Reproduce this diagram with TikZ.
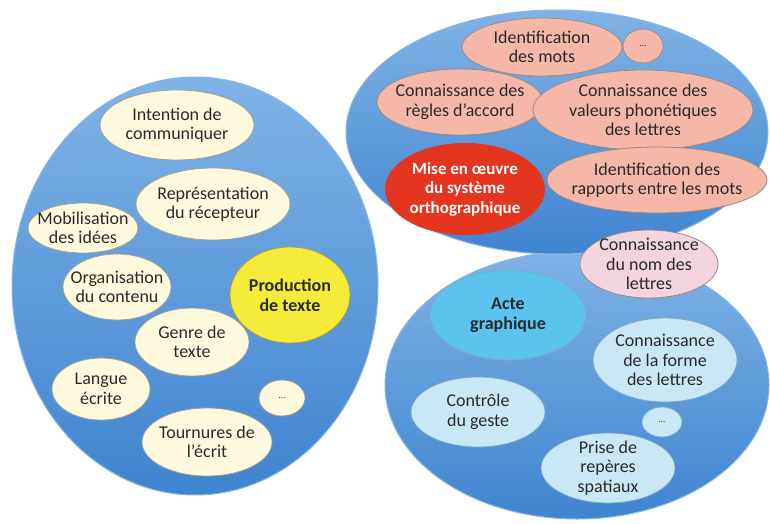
\documentclass[tikz,border=0pt]{standalone}
\usepackage{fontspec}
\setmainfont{Carlito}
\usetikzlibrary{shapes.geometric}

\definecolor{zonetop}{HTML}{80B3E6}
\definecolor{zonemid}{HTML}{5F9EDC}
\definecolor{zonebot}{HTML}{3F84D0}
\definecolor{zoneline}{HTML}{8AB6E2}
\definecolor{creamfill}{HTML}{FFFADD}
\definecolor{creamline}{HTML}{A3A194}
\definecolor{salmon}{HTML}{F5B8A8}
\definecolor{salmonline}{HTML}{9E8784}
\definecolor{redfill}{HTML}{E4351F}
\definecolor{yellowfill}{HTML}{F7EB3A}
\definecolor{yellowline}{HTML}{A9A14A}
\definecolor{rosefill}{HTML}{F3D4DF}
\definecolor{sky}{HTML}{C8E8F6}
\definecolor{skyline}{HTML}{7FA8C6}
\definecolor{actefill}{HTML}{5CC3EF}
\definecolor{txt}{HTML}{2A2A2A}

\tikzset{
  zone/.style={ellipse, draw=zoneline, line width=1pt, top color=zonetop, middle color=zonemid, bottom color=zonebot, inner sep=0pt},
  bub/.style={ellipse, line width=.8pt, inner sep=0pt},
  cream/.style={bub, draw=creamline, fill=creamfill},
  pinkbub/.style={bub, draw=salmonline, fill=salmon},
  skybub/.style={bub, draw=skyline, fill=sky},
  every label/.style={align=center, text=txt, font=\fontsize{18}{19.5}\selectfont},
  dotslabel/.style={font=\fontsize{9}{10}\selectfont},
}

\begin{document}
\begin{tikzpicture}[x=1pt, y=-1pt]
  \useasboundingbox (0,0) rectangle (770,524);
  \fill[white] (0,0) rectangle (770,524);

  % the three areas
  \path (195,286) node(ecriture)[zone, minimum width=366, minimum height=418] {};
  \path (577,385) node(graphisme)[zone, minimum width=384, minimum height=268] {};
  \path (557,132) node(orthographe)[zone, minimum width=422, minimum height=244] {};

  % production de texte
  \path (177,125) node(intention)[cream, minimum width=154, minimum height=70, label=center:{Intention de\\communiquer}] {}
        (213,204) node(recepteur)[cream, minimum width=154, minimum height=72, label=center:{Représentation\\du récepteur}] {}
        (83,228)  node(idees)[cream, minimum width=110, minimum height=50, label=center:{Mobilisation\\des idées}] {}
        (117,287) node(contenu)[cream, minimum width=108, minimum height=66, label=center:{Organisation\\du contenu}] {}
        (290,295) node(production)[bub, draw=yellowline, fill=yellowfill, minimum width=120, minimum height=96,
                    label={[font=\fontsize{18}{19.5}\selectfont\bfseries]center:Production\\de texte}] {}
        (192,342) node(genre)[cream, minimum width=114, minimum height=68, label=center:{Genre de\\texte}] {}
        (101,389) node(langue)[cream, minimum width=98, minimum height=62, label=center:{Langue\\écrite}] {}
        (282,398) node(autresL)[cream, minimum width=46, minimum height=36, label={[dotslabel]center:\ldots}] {}
        (207,442) node(tournures)[cream, minimum width=130, minimum height=68, label=center:{Tournures de\\l’écrit}] {};

  % orthographe
  \path (542,47)  node(mots)[pinkbub, minimum width=160, minimum height=58, label=center:{Identification\\des mots}] {}
        (643,46)  node(autresO)[pinkbub, minimum width=40, minimum height=34, label={[dotslabel]center:\ldots}] {}
        (460,102) node(regles)[pinkbub, minimum width=166, minimum height=66, label=center:{Connaissance des\\règles d’accord}] {}
        (643,110) node(valeurs)[pinkbub, minimum width=220, minimum height=80, label=center:{Connaissance des\\valeurs phonétiques\\des lettres}] {}
        (657,180) node(rapports)[pinkbub, minimum width=220, minimum height=66, label=center:{Identification des\\rapports entre les mots}] {}
        (465,189) node(systeme)[bub, fill=redfill, minimum width=160, minimum height=92,
                    label={[text=white, font=\fontsize{17}{19.5}\selectfont\bfseries]center:Mise en œuvre\\du système\\orthographique}] {};

  % acte graphique
  \path (649,264) node(nom)[bub, draw=salmonline, fill=rosefill, minimum width=138, minimum height=68, label=center:{Connaissance\\du nom des\\lettres}] {}
        (508,315) node(acte)[bub, draw=skyline, fill=actefill, minimum width=156, minimum height=90,
                    label={[font=\fontsize{18}{19.5}\selectfont\bfseries]center:Acte\\graphique}] {}
        (665,360) node(forme)[skybub, minimum width=144, minimum height=84, label=center:{Connaissance\\de la forme\\des lettres}] {}
        (478,412) node(geste)[skybub, minimum width=134, minimum height=70, label=center:{Contrôle\\du geste}] {}
        (662,422) node(autresG)[skybub, minimum width=40, minimum height=30, label={[dotslabel]center:\ldots}] {}
        (608,468) node(reperes)[skybub, minimum width=134, minimum height=70, label=center:{Prise de\\repères\\spatiaux}] {};
\end{tikzpicture}
\end{document}
